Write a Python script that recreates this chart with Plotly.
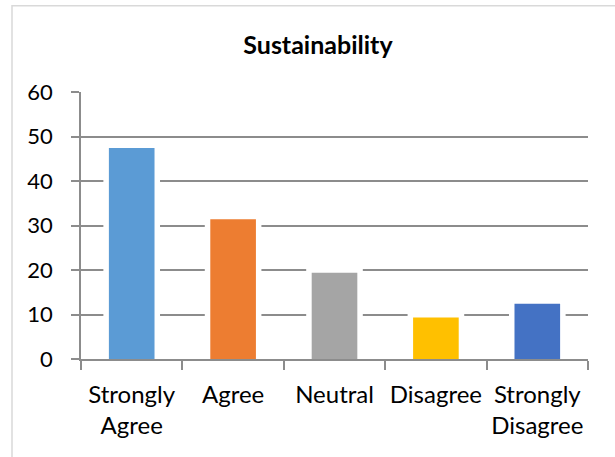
import plotly.graph_objects as go

categories = ["Strongly<br>Agree", "Agree", "Neutral", "Disagree", "Strongly<br>Disagree"]
values = [47.4, 31.4, 19.4, 9.3, 12.4]
colors = ["#5B9BD5", "#ED7D31", "#A5A5A5", "#FFC000", "#4472C4"]
y_ticks = [0, 10, 20, 30, 40, 50, 60]

FONT = "Lato"
GRID = "#8C8C8C"

fig = go.Figure()
# white halo behind bars (Excel-style white outline breaking gridlines)
fig.add_trace(go.Bar(
    x=categories, y=values, width=0.45,
    marker=dict(color="white", line=dict(color="white", width=11)),
    hoverinfo="skip", showlegend=False,
))
fig.add_trace(go.Bar(
    x=categories, y=values, width=0.45,
    marker=dict(color=colors, line=dict(width=0)),
    showlegend=False,
))

fig.update_layout(
    width=615, height=457,
    margin=dict(l=81, r=27, t=92, b=98),
    paper_bgcolor="white", plot_bgcolor="white",
    barmode="overlay",
    font=dict(family=FONT, color="#000000"),
    title=dict(
        text="<b>Sustainability</b>",
        font=dict(family=FONT, size=25, color="#000000"),
        x=0.517, xref="container", xanchor="center",
        y=1 - 45.5 / 457, yref="container", yanchor="middle",
    ),
    xaxis=dict(
        type="category",
        showline=True, linecolor=GRID, linewidth=1.5,
        ticks="outside", tickson="boundaries", ticklen=9, tickcolor=GRID, tickwidth=1.5,
        tickfont=dict(family=FONT, size=24, color="#000000"),
        tickangle=0, automargin=False,
        showgrid=False,
        ticklabelstandoff=13,
    ),
    yaxis=dict(
        range=[0, 60], tickvals=y_ticks,
        showline=True, linecolor=GRID, linewidth=1.5,
        ticks="outside", ticklen=8, tickcolor=GRID, tickwidth=1.5,
        showgrid=True, gridcolor=GRID, gridwidth=1.5,
        zeroline=False, automargin=False,
        tickfont=dict(family=FONT, size=22, color="#000000"),
        ticklabelstandoff=14,
    ),
    shapes=[dict(
        type="rect", xref="paper", yref="paper",
        x0=(12 - 81) / 507, x1=(640 - 81) / 507,
        y0=(359.3 - 480) / 267, y1=(359.3 - 6) / 267,
        line=dict(color="#D9D9D9", width=1.5), fillcolor="rgba(0,0,0,0)",
        layer="below",
    )],
)

fig.write_html("out.html")
